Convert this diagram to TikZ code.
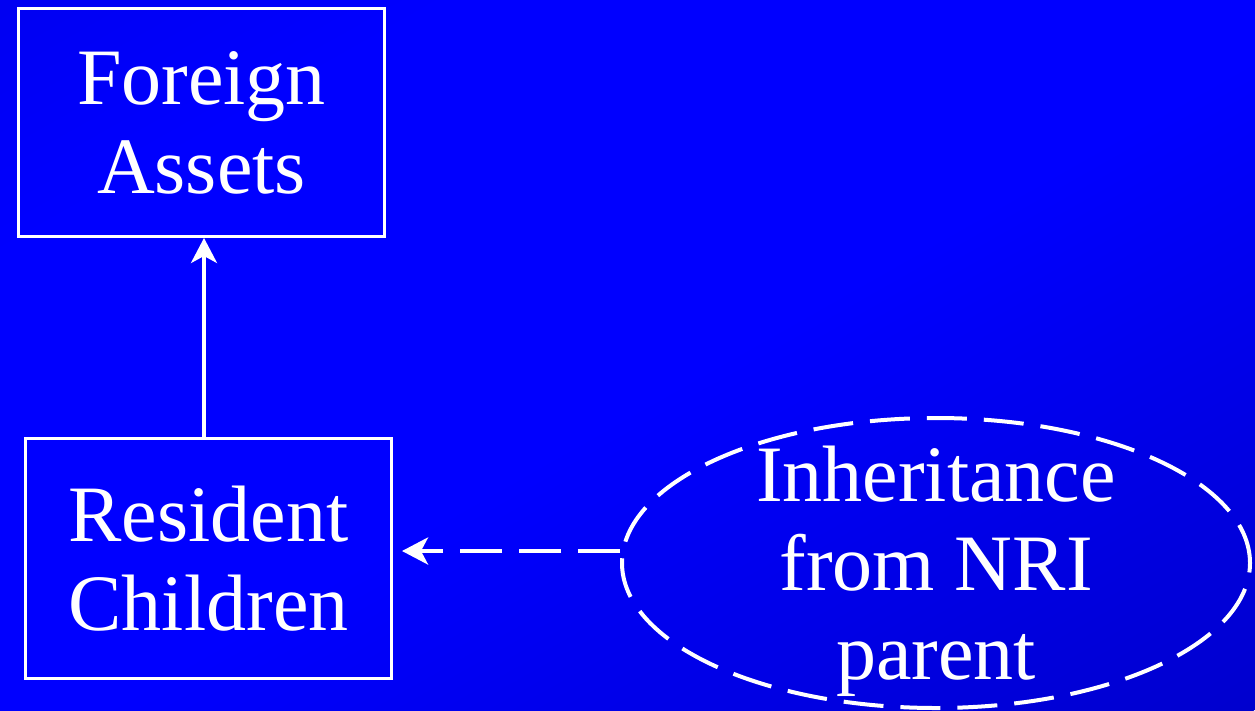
\documentclass[tikz,border=0pt]{standalone}
\usepackage{fontspec}
\setmainfont{Liberation Serif}
\usetikzlibrary{shapes.geometric,arrows.meta,calc}
\definecolor{bgdark}{HTML}{0000CC}
\definecolor{bgdeep}{HTML}{000098}
\pgfdeclarehorizontalshading{bgsweep}{100bp}{color(0bp)=(bgdark); color(34bp)=(blue);
  color(52bp)=(blue); color(100bp)=(bgdeep)}
\begin{document}
\begin{tikzpicture}[x=1pt,y=-1pt,
  every node/.style={text=white, font=\fontsize{80}{89}\selectfont},
  box/.style={draw=white, line width=3pt, rectangle, minimum width=366pt,
    inner sep=0pt, align=center},
  dashring/.style={ellipse, draw=white, line width=4pt,
    dash pattern=on 40pt off 17pt, minimum width=628pt, minimum height=290pt,
    inner sep=0pt},
  ringtext/.style={align=center, inner sep=0pt},
  solidarrow/.style={draw=white, line width=3.5pt,
    -{Stealth[length=25pt,width=26pt,inset=7pt]}},
  dasharrow/.style={draw=white, line width=4pt, dash pattern=on 42pt off 17pt,
    -{Stealth[length=26pt,width=27pt,inset=7pt]}, shorten >=9pt}]
  \useasboundingbox (0,0) rectangle (1255,710);
  % background: dark corners top-left and bottom-right, bright along the other diagonal
  \begin{scope}
    \clip (0,0) rectangle (1255,710);
    \begin{scope}[transform canvas={shift={(627.5,355)}, rotate=-60.5}]
      \shade[shading=bgsweep] (-618,-800) rectangle (618,800);
    \end{scope}
  \end{scope}

  \node[box, minimum height=228pt] (fa) at (201.5,122.5) {Foreign\\Assets};
  \node[box, minimum height=240pt] (rc) at (208.5,558.5) {Resident\\Children};
  \node[dashring] (inh) at (936,563) {};
  \node[ringtext] (inhtext) at (936,571.5) {Inheritance\\from NRI\\parent};

  \coordinate (vx) at (204,0);
  \draw[solidarrow] (rc.north -| vx) -- (fa.south -| vx);
  \draw[dasharrow] ([yshift=12pt]inh.west) -- ([yshift=12pt]inh.west -| rc.east);
\end{tikzpicture}
\end{document}
